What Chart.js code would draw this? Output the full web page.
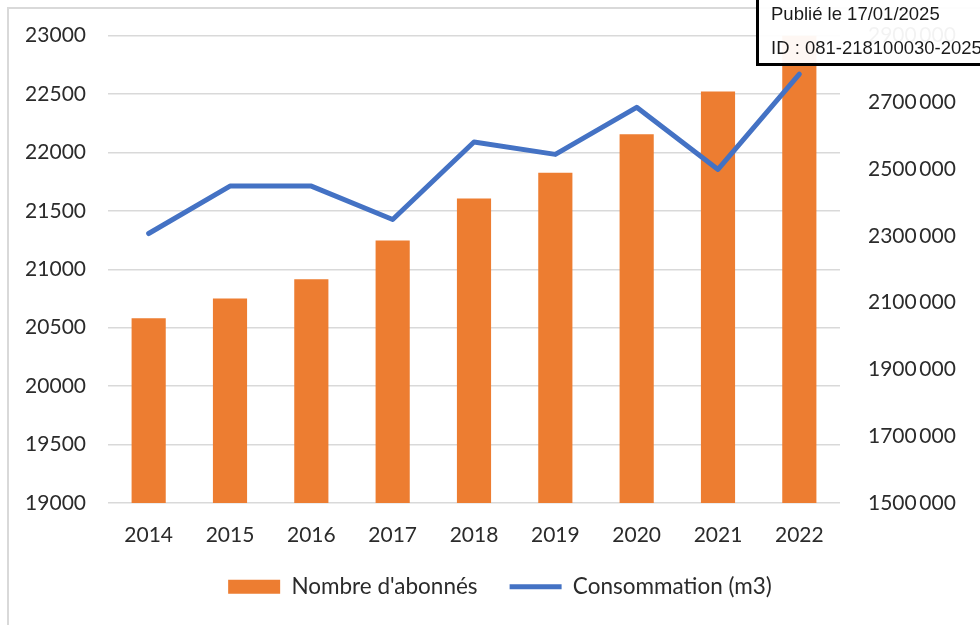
<!DOCTYPE html>
<html lang="fr">
<head>
<meta charset="utf-8">
<title>Nombre d'abonnés et consommation</title>
<script src="https://cdn.jsdelivr.net/npm/chart.js@4.4.1/dist/chart.umd.min.js"></script>
<style>
  html, body { margin: 0; padding: 0; background: #fff; overflow: hidden; }
  #wrap { position: relative; width: 980px; height: 625px; }
  #frame { position: absolute; left: 7px; top: 7px; right: -10px; bottom: -10px;
           border-left: 2px solid #d9d9d9; border-top: 2px solid #d9d9d9; pointer-events: none; }
  #stamp { position: absolute; left: 756px; top: -10px; width: 260px; height: 73px;
           border-left: 3px solid #000; border-bottom: 3px solid #000;
           background: rgba(255,255,255,0.94);
           font-family: "Liberation Sans", Arial, sans-serif; font-size: 18.5px; color: #1a1a1a; }
  #stamp span { position: absolute; left: 12px; white-space: nowrap; }
</style>
</head>
<body>
<div id="wrap">
  <canvas id="chart" width="980" height="625"></canvas>
  <div id="frame"></div>
  <div id="stamp">
    <span style="top:13px">Publié le 17/01/2025</span>
    <span style="top:47px">ID : 081-218100030-2025</span>
  </div>
</div>
<script>
/* Abonnés (barres, axe gauche) et consommation en m3 (courbe, axe droit) */
const years = ["2014", "2015", "2016", "2017", "2018", "2019", "2020", "2021", "2022"];
const abonnes = [20580, 20750, 20915, 21245, 21605, 21825, 22155, 22520, 23000];
const consommation = [2307000, 2449000, 2449000, 2349000, 2581000, 2544000, 2685000, 2499000, 2784000];
const leftTicks = [19000, 19500, 20000, 20500, 21000, 21500, 22000, 22500, 23000];
const rightTicks = [1500000, 1700000, 1900000, 2100000, 2300000, 2500000, 2700000, 2900000];

(function () {
  const family = "Lato, 'Open Sans', sans-serif";
  const font = { family, size: 21 };
  const ink = "#2b2b2b";
  const PAD_BOTTOM = 17, AREA_BOTTOM = 503;
  // "2700 000" : only the last group is set apart, as in the source
  const fmt = v => { const s = String(v); return s.slice(0, -3) + "\u2009" + s.slice(-3); };

  new Chart(document.getElementById("chart"), {
    data: {
      labels: years,
      datasets: [
        {
          type: "bar", label: "Nombre d'abonnés", data: abonnes, yAxisID: "y",
          backgroundColor: "#ED7D31", borderWidth: 0, order: 1,
          barPercentage: 0.42, categoryPercentage: 1, pointStyle: "rect",
        },
        {
          type: "line", label: "Consommation (m3)", data: consommation, yAxisID: "y1",
          borderColor: "#4472C4", backgroundColor: "#4472C4", borderWidth: 5,
          borderCapStyle: "round", borderJoinStyle: "round", tension: 0,
          pointRadius: 0, order: 0, pointStyle: "line",
        },
      ],
    },
    options: {
      responsive: false, animation: false,
      layout: { padding: { top: 35.5, left: 20, right: 0, bottom: PAD_BOTTOM } },
      plugins: {
        tooltip: { enabled: false },
        legend: {
          position: "bottom",
          labels: {
            usePointStyle: true, pointStyleWidth: 52, boxHeight: 14,
            padding: 32, color: ink, font: { family, size: 22.5 },
            sort: (a, b) => a.datasetIndex - b.datasetIndex,
          },
        },
      },
      scales: {
        x: {
          grid: { display: false, drawTicks: false }, border: { display: false },
          ticks: { color: ink, font, padding: 19.5, maxRotation: 0 },
          afterFit: s => {
            const lg = s.chart.legend ? s.chart.legend.height : 0;
            s.height = Math.max(10, 625 - AREA_BOTTOM - PAD_BOTTOM - lg);
          },
        },
        y: {
          position: "left", min: 19000, max: 23000,
          grid: { color: "#d9d9d9", lineWidth: 1.5, drawTicks: false },
          border: { display: false },
          ticks: { color: ink, font: { family, size: 21, lineHeight: 0.7 }, padding: 22, callback: v => String(v) },
          afterBuildTicks: s => { s.ticks = leftTicks.map(v => ({ value: v })); },
          afterFit: s => { s.width = 88; },
        },
        y1: {
          position: "right", min: 1500000, max: 2900000,
          grid: { display: false, drawTicks: false }, border: { display: false },
          ticks: { color: ink, font: { family, size: 21, lineHeight: 0.7 }, padding: 28, callback: v => fmt(v) },
          afterBuildTicks: s => { s.ticks = rightTicks.map(v => ({ value: v })); },
          afterFit: s => { s.width = 140; },
        },
      },
    },
  });
})();
</script>
</body>
</html>
